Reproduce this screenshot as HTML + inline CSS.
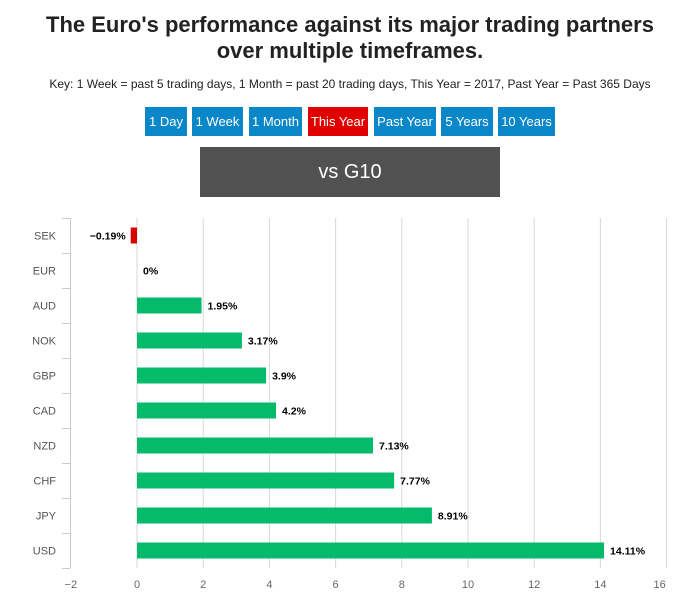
<!DOCTYPE html>
<html><head><meta charset="utf-8"><style>
body{margin:0;width:700px;height:613px;background:#fff;font-family:"Liberation Sans",sans-serif;position:relative;overflow:hidden}
.t{position:absolute;left:0;width:700px;text-align:center;font-weight:bold;font-size:22px;color:#222;line-height:26px}
.key{position:absolute;left:0;width:700px;top:77px;text-align:center;font-size:12px;color:#222}
.btn{position:absolute;top:107px;height:29px;line-height:29px;background:#0a87c9;color:#fff;font-size:13px;text-align:center}
</style></head><body>
<div class="t" style="top:12px">The Euro's performance against its major trading partners<br>over multiple timeframes.</div>
<div class="key">Key: 1 Week = past 5 trading days, 1 Month = past 20 trading days, This Year = 2017, Past Year = Past 365 Days</div>
<div class="btn" style="left:145px;width:42px">1 Day</div>
<div class="btn" style="left:192px;width:51px">1 Week</div>
<div class="btn" style="left:249px;width:53px">1 Month</div>
<div class="btn" style="left:308px;width:60px;background:#e00000">This Year</div>
<div class="btn" style="left:374px;width:62px">Past Year</div>
<div class="btn" style="left:441px;width:52px">5 Years</div>
<div class="btn" style="left:498px;width:57px">10 Years</div>
<div style="position:absolute;left:200px;top:147px;width:300px;height:50px;line-height:50px;background:#515151;color:#fff;font-size:20px;text-align:center">vs G10</div>
<svg id="chart" width="700" height="613" style="position:absolute;left:0;top:0"></svg>
<script>
const categories=["SEK","EUR","AUD","NOK","GBP","CAD","NZD","CHF","JPY","USD"];
const values=[-0.19,0,1.95,3.17,3.9,4.2,7.13,7.77,8.91,14.11];
const labels=["−0.19%","0%","1.95%","3.17%","3.9%","4.2%","7.13%","7.77%","8.91%","14.11%"];
const ticks=[-2,0,2,4,6,8,10,12,14,16];
const NS="http://www.w3.org/2000/svg",svg=document.getElementById('chart');
const x0=137,ppu=33.1,top0=218,band=35,bh=16;
const X=v=>x0+v*ppu, Y=i=>top0+i*band;
function mk(t,a){const e=document.createElementNS(NS,t);for(const k in a)e.setAttribute(k,a[k]);svg.appendChild(e);return e;}
ticks.forEach((t,i)=>{
 if(i>0){const g=mk('line',{x1:X(t),x2:X(t),y1:top0,y2:top0+band*categories.length,stroke:'#d8d8d8'});
 
 }
 const tx=mk('text',{x:X(t)-(t==16?7:0),y:588,'text-anchor':'middle','font-size':11,fill:'#666'});
 tx.textContent=t<0?'−'+Math.abs(t):t;
 
 
});
const ax=mk('line',{x1:70.5,x2:70.5,y1:top0,y2:top0+band*categories.length,stroke:'#ccc'});


for(let i=0;i<=categories.length;i++){const tk=mk('line',{x1:62,x2:70,y1:Y(i)+.5,y2:Y(i)+.5,stroke:'#ccc'});
 
 }
categories.forEach((c,i)=>{
 const cy=Y(i)+band/2;
 const l=mk('text',{x:56,y:cy+4,'text-anchor':'end','font-size':11,fill:'#555'});l.textContent=c;
 
 
 const v=values[i],xa=X(Math.min(0,v)),w=Math.abs(v)*ppu;
 if(v!==0){const r=mk('rect',{x:xa,y:cy-bh/2,width:w,height:bh,fill:v<0?'#d90000':'#04bb6c'});
 
 }
 const vl=mk('text',{x:v<0?xa-5:X(v)+6,y:cy+4,'text-anchor':v<0?'end':'start','font-size':10.5,'font-weight':'bold',fill:'#000'});
 vl.textContent=labels[i];
 
 
});
</script>
</body></html>
